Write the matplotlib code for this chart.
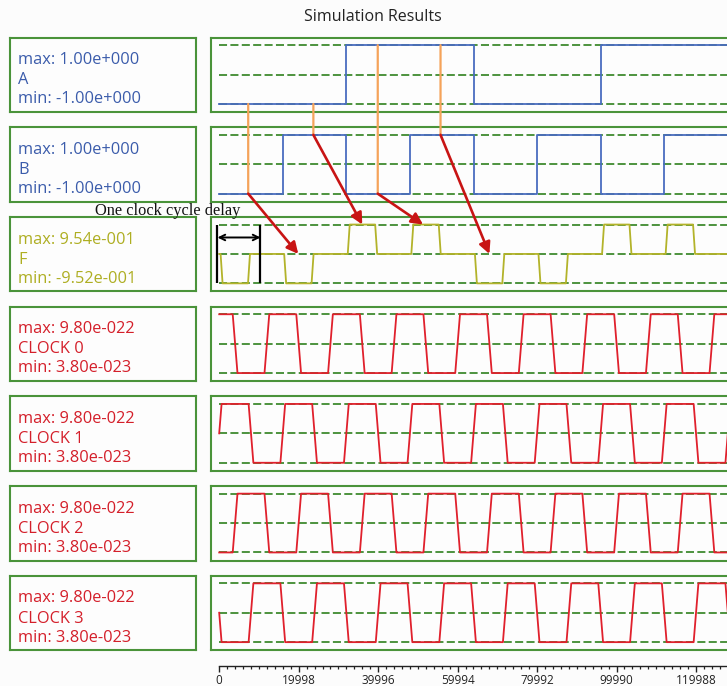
import matplotlib
matplotlib.use('Agg')
import numpy as np
import matplotlib.pyplot as plt
from matplotlib.patches import ConnectionPatch

# ---- data ----
names = ['A', 'B', 'F', 'CLOCK 0', 'CLOCK 1', 'CLOCK 2', 'CLOCK 3']
max_txt = ['1.00e+000', '1.00e+000', '9.54e-001', '9.80e-022', '9.80e-022', '9.80e-022', '9.80e-022']
min_txt = ['-1.00e+000', '-1.00e+000', '-9.52e-001', '3.80e-023', '3.80e-023', '3.80e-023', '3.80e-023']

# A and B are square steps (time, level after that time), levels scaled to -1..1
a_t = [0, 32000, 64000, 96000, 131000]
a_v = [-1, 1, -1, 1, 1]
b_t = [0, 16000, 32000, 48000, 64000, 80000, 96000, 112000, 128000, 131000]
b_v = [-1, 1, -1, 1, -1, 1, -1, 1, -1, -1]

# F: output pulses, one per clock cycle
f_t = [0, 350, 850, 7250, 7750, 16350, 16850, 23250, 23750, 32350, 32850, 39250, 39750,
       48350, 48850, 55250, 55750, 64350, 64850, 71250, 71750, 80350, 80850, 87250, 87750,
       96350, 96850, 103250, 103750, 112350, 112850, 119250, 119750, 131000]
f_v = [0, 0, -1, -1, 0, 0, -1, -1, 0, 0, 1, 1, 0, 0, 1, 1, 0,
       0, -1, -1, 0, 0, -1, -1, 0, 0, 1, 1, 0, 0, 1, 1, 0, 0]

# clocks 0/2 share break times, clocks 1/3 share break times (quarter period later)
clk02_t = [0, 3400, 4600, 11400, 12600, 19400, 20600, 27400, 28600, 35400, 36600, 43400,
           44600, 51400, 52600, 59400, 60600, 67400, 68600, 75400, 76600, 83400, 84600,
           91400, 92600, 99400, 100600, 107400, 108600, 115400, 116600, 123400, 124600, 131000]
clk0_v = [1, 1, -1, -1, 1, 1, -1, -1, 1, 1, -1, -1, 1, 1, -1, -1, 1,
          1, -1, -1, 1, 1, -1, -1, 1, 1, -1, -1, 1, 1, -1, -1, 1, 1]
clk2_v = [-1, -1, 1, 1, -1, -1, 1, 1, -1, -1, 1, 1, -1, -1, 1, 1, -1,
          -1, 1, 1, -1, -1, 1, 1, -1, -1, 1, 1, -1, -1, 1, 1, -1, -1]
clk13_t = [0, 600, 7400, 8600, 15400, 16600, 23400, 24600, 31400, 32600, 39400, 40600,
           47400, 48600, 55400, 56600, 63400, 64600, 71400, 72600, 79400, 80600, 87400,
           88600, 95400, 96600, 103400, 104600, 111400, 112600, 119400, 120600, 127400,
           128600, 131000]
clk1_v = [0, 1, 1, -1, -1, 1, 1, -1, -1, 1, 1, -1, -1, 1, 1, -1, -1, 1,
          1, -1, -1, 1, 1, -1, -1, 1, 1, -1, -1, 1, 1, -1, -1, 1, 1]
clk3_v = [0, -1, -1, 1, 1, -1, -1, 1, 1, -1, -1, 1, 1, -1, -1, 1, 1, -1,
          -1, 1, 1, -1, -1, 1, 1, -1, -1, 1, 1, -1, -1, 1, 1, -1, -1]

# sample instants (orange) and where the red arrows land on F
sample_t = [7300, 23700, 39900, 55700]
tip_t = [19900, 36000, 51300, 68000]
tip_v = [0, 1, 1, 0]
delay_t = [-430, 10390]

tick_step = 19998
x_end = 131000

# ---- layout (pixels) ----
W, H = 727, 686
row_top = [37.5 + 89.7 * k for k in range(7)]
box_h = 74.5
t0_px = 219.2
units_per_px = 251.66
panel_l, panel_r = 211, 745

green = '#4a933a'
dash_green = '#3f8a2f'
blue = '#4a6cc0'
olive = '#b3b32a'
red = '#e0202c'
txt_colors = ['#3b5cab', '#3b5cab', '#aeae22', '#d41f2a', '#d41f2a', '#d41f2a', '#d41f2a']
line_colors = [blue, blue, olive, red, red, red, red]

plt.rcParams['font.family'] = ['Open Sans', 'DejaVu Sans']

fig = plt.figure(figsize=(W / 100, H / 100), dpi=100)
fig.patch.set_facecolor('#fcfcfc')


def frac_box(x0, top, w, h):
    return [x0 / W, 1 - (top + h) / H, w / W, h / H]


xlim = (-(t0_px - panel_l) * units_per_px, (panel_r - t0_px) * units_per_px)
ylim = (-1 - 8.1 * 2 / 59.2, 1 + 7.7 * 2 / 59.2)

series = [(a_t, a_v, 'step'), (b_t, b_v, 'step'), (f_t, f_v, 'line'),
          (clk02_t, clk0_v, 'line'), (clk13_t, clk1_v, 'line'),
          (clk02_t, clk2_v, 'line'), (clk13_t, clk3_v, 'line')]

panels = []
for i, top in enumerate(row_top):
    # label box
    lab = fig.add_axes(frac_box(10, top, 186, box_h))
    lab.set_facecolor('#fdfdfd')
    lab.set_xticks([])
    lab.set_yticks([])
    for s in lab.spines.values():
        s.set_color(green)
        s.set_linewidth(1.5)
    for yy, s in zip([0.695, 0.425, 0.17], ['max: ' + max_txt[i], names[i], 'min: ' + min_txt[i]]):
        lab.text(0.045, yy, s, transform=lab.transAxes, ha='left', va='center',
                 fontsize=11.8, color=txt_colors[i])

    # waveform panel
    ax = fig.add_axes(frac_box(panel_l, top, panel_r - panel_l, box_h))
    ax.set_facecolor('#fdfdfd')
    ax.set_xlim(*xlim)
    ax.set_ylim(*ylim)
    ax.set_xticks([])
    ax.set_yticks([])
    for s in ax.spines.values():
        s.set_color(green)
        s.set_linewidth(1.5)
    for lvl in (-1, 0, 1):
        ax.hlines(lvl, 0, x_end, colors=dash_green, linewidth=1.3,
                  linestyles=(0, (5.8 / 1.3, 2.4 / 1.3)), zorder=1)
    t, v, kind = series[i]
    if kind == 'step':
        ax.step(t, v, where='post', color=line_colors[i], lw=1.3, zorder=3)
    else:
        ax.plot(t, v, color=line_colors[i], lw=1.3, zorder=3)
    panels.append(ax)

axA, axB, axF = panels[0], panels[1], panels[2]


def level_at(ts, vs, x):
    idx = np.searchsorted(ts, x, side='right') - 1
    return vs[idx]


# orange sampling lines from A down to B
for t in sample_t:
    va = level_at(a_t, a_v, t)
    vb = level_at(b_t, b_v, t)
    con = ConnectionPatch(xyA=(t, va), coordsA=axA.transData,
                          xyB=(t, vb), coordsB=axB.transData,
                          color='#f5a35a', lw=1.6, zorder=5)
    fig.add_artist(con)

# red arrows from the B sample to the F pulse one cycle later
for t, tt, tv in zip(sample_t, tip_t, tip_v):
    vb = level_at(b_t, b_v, t)
    arr = ConnectionPatch(xyA=(t, vb), coordsA=axB.transData,
                          xyB=(tt, tv), coordsB=axF.transData,
                          arrowstyle='-|>', mutation_scale=17, color='#c81414',
                          lw=1.9, shrinkA=0, shrinkB=0, zorder=6)
    fig.add_artist(arr)

# one clock cycle delay marker
axF.vlines(delay_t, -1, 1, colors='black', linewidth=1.6, zorder=4)
axF.annotate('', xy=(delay_t[1], 0.56), xytext=(delay_t[0], 0.56),
             arrowprops=dict(arrowstyle='<->', color='black', lw=1.4,
                             shrinkA=0, shrinkB=0, mutation_scale=10), zorder=4)
fig.text(168 / W, 1 - 210.7 / H, 'One clock cycle delay', ha='center', va='center',
         family='Liberation Serif', fontsize=11.8, color='#111111')

fig.text(372.5 / W, 1 - 16.7 / H, 'Simulation Results', ha='center', va='center',
         fontsize=11.5, color='#222222')

# time axis at the bottom
axx = fig.add_axes(frac_box(panel_l, 640, panel_r - panel_l, 26))
axx.set_xlim(*xlim)
axx.patch.set_visible(False)
for k in ('top', 'left', 'right'):
    axx.spines[k].set_visible(False)
axx.spines['bottom'].set_bounds(0, x_end)
axx.spines['bottom'].set_linewidth(1.0)
axx.spines['bottom'].set_color('#222222')
axx.set_yticks([])
major = np.arange(0, x_end, tick_step)
axx.set_xticks(major)
axx.set_xticklabels([str(int(m)) for m in major])
axx.set_xticks(np.arange(0, x_end, tick_step / 10), minor=True)
axx.tick_params(axis='x', which='major', length=4, width=1.0, color='#222222',
                labelsize=8.5, labelcolor='#222222', pad=2)
axx.tick_params(axis='x', which='minor', length=2.2, width=0.9, color='#222222')

fig.savefig('out.png', dpi=100, facecolor=fig.get_facecolor())
